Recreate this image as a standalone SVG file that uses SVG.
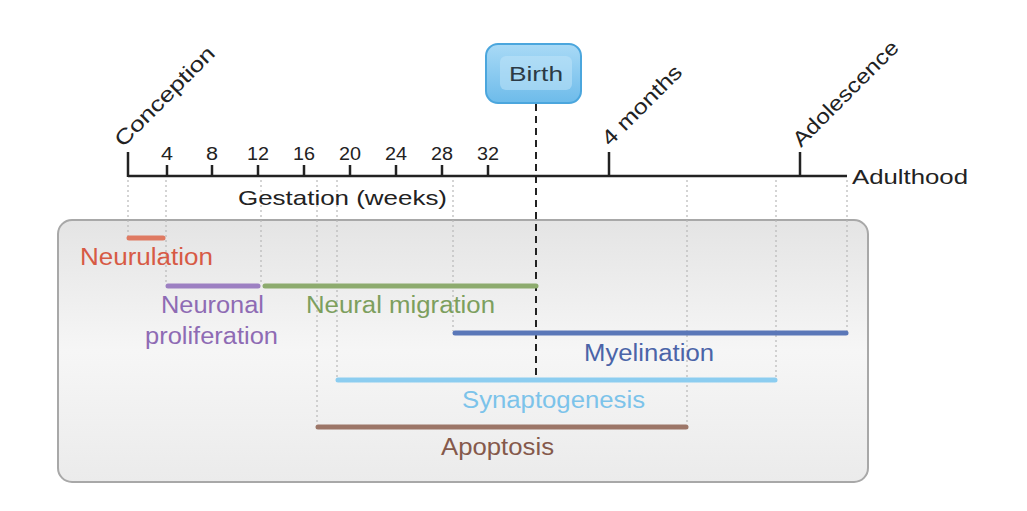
<svg xmlns="http://www.w3.org/2000/svg" width="1027" height="511" viewBox="0 0 1027 511">
<style>
text{font-family:"Liberation Sans",Arial,sans-serif}
.ax{stroke:#222;stroke-width:2.5;fill:none}
.tk{font-size:18px;fill:#222;text-anchor:middle}
.big{font-size:21px;fill:#222}
.dot{stroke:#b8b8b8;stroke-width:1.2;stroke-dasharray:2 3;fill:none}
.bar{stroke-width:5;stroke-linecap:round;fill:none}
.lbl{font-size:23px;text-anchor:middle}
</style>
<defs>
<linearGradient id="bg" x1="0" y1="0" x2="0" y2="1">
<stop offset="0" stop-color="#e4e4e4"/>
<stop offset="0.5" stop-color="#f6f6f6"/>
<stop offset="1" stop-color="#ebebeb"/>
</linearGradient>
<linearGradient id="bb" x1="0" y1="0" x2="0" y2="1">
<stop offset="0" stop-color="#a9daf6"/>
<stop offset="1" stop-color="#6dbbea"/>
</linearGradient>
</defs>
<g id="panel">
<rect x="58" y="220" width="810" height="262" rx="14" fill="url(#bg)" stroke="#a8a8a8" stroke-width="2"/>
</g>
<g id="guides">
<line class="dot" x1="128" y1="180" x2="128" y2="236"/>
<line class="dot" x1="166" y1="180" x2="166" y2="284"/>
<line class="dot" x1="261" y1="180" x2="261" y2="284"/>
<line class="dot" x1="317" y1="180" x2="317" y2="425"/>
<line class="dot" x1="337" y1="180" x2="337" y2="378"/>
<line class="dot" x1="453" y1="180" x2="453" y2="331"/>
<line class="dot" x1="687" y1="180" x2="687" y2="425"/>
<line class="dot" x1="776" y1="180" x2="776" y2="378"/>
<line class="dot" x1="847" y1="180" x2="847" y2="331"/>
</g>
<g id="axis">
<line class="ax" x1="128" y1="176" x2="847" y2="176"/>
<line class="ax" x1="128" y1="152" x2="128" y2="177"/>
<line class="ax" x1="167" y1="165" x2="167" y2="176"/>
<line class="ax" x1="212" y1="165" x2="212" y2="176"/>
<line class="ax" x1="258" y1="165" x2="258" y2="176"/>
<line class="ax" x1="304" y1="165" x2="304" y2="176"/>
<line class="ax" x1="350" y1="165" x2="350" y2="176"/>
<line class="ax" x1="396" y1="165" x2="396" y2="176"/>
<line class="ax" x1="442" y1="165" x2="442" y2="176"/>
<line class="ax" x1="488" y1="165" x2="488" y2="176"/>
<line class="ax" x1="609" y1="152" x2="609" y2="176"/>
<line class="ax" x1="800" y1="152" x2="800" y2="176"/>
<text class="tk" x="167" y="160" textLength="12" lengthAdjust="spacingAndGlyphs">4</text>
<text class="tk" x="212" y="160" textLength="12" lengthAdjust="spacingAndGlyphs">8</text>
<text class="tk" x="258" y="160" textLength="22" lengthAdjust="spacingAndGlyphs">12</text>
<text class="tk" x="304" y="160" textLength="22" lengthAdjust="spacingAndGlyphs">16</text>
<text class="tk" x="350" y="160" textLength="22" lengthAdjust="spacingAndGlyphs">20</text>
<text class="tk" x="396" y="160" textLength="22" lengthAdjust="spacingAndGlyphs">24</text>
<text class="tk" x="442" y="160" textLength="22" lengthAdjust="spacingAndGlyphs">28</text>
<text class="tk" x="488" y="160" textLength="22" lengthAdjust="spacingAndGlyphs">32</text>
<text class="big" x="238" y="205" textLength="209" lengthAdjust="spacingAndGlyphs">Gestation (weeks)</text>
<text class="big" x="852" y="184" textLength="116" lengthAdjust="spacingAndGlyphs">Adulthood</text>
<text class="big" transform="translate(123,148) rotate(-45)" textLength="132" lengthAdjust="spacingAndGlyphs">Conception</text>
<text class="big" transform="translate(610,147) rotate(-45)" textLength="104" lengthAdjust="spacingAndGlyphs">4 months</text>
<text class="big" transform="translate(801,148) rotate(-45)" textLength="140" lengthAdjust="spacingAndGlyphs">Adolescence</text>
</g>
<g id="birth">
<line x1="536" y1="104" x2="536" y2="382" stroke="#222" stroke-width="2" stroke-dasharray="7 5"/>
<rect x="486" y="44" width="95" height="59" rx="12" fill="url(#bb)" stroke="#4ba6dd" stroke-width="2"/>
<rect x="500" y="56" width="72" height="34" rx="6" fill="#bfe4f8" opacity="0.55"/>
<text x="509" y="81" font-size="21" fill="#2b3a45" textLength="54" lengthAdjust="spacingAndGlyphs">Birth</text>
</g>
<g id="neurulation">
<line class="bar" x1="129" y1="238" x2="163" y2="238" stroke="#df7a62"/>
<text class="lbl" x="146.5" y="265" fill="#d75a45" textLength="133" lengthAdjust="spacingAndGlyphs">Neurulation</text>
</g>
<g id="proliferation">
<line class="bar" x1="168" y1="286" x2="258" y2="286" stroke="#9d80c2"/>
<text class="lbl" x="212.5" y="313" fill="#8e6bb4" textLength="103" lengthAdjust="spacingAndGlyphs">Neuronal</text>
<text class="lbl" x="211.5" y="344" fill="#8e6bb4" textLength="133" lengthAdjust="spacingAndGlyphs">proliferation</text>
</g>
<g id="migration">
<line class="bar" x1="265" y1="286" x2="536" y2="286" stroke="#8dab6e"/>
<text class="lbl" x="400.5" y="313" fill="#7d9f5e" textLength="189" lengthAdjust="spacingAndGlyphs">Neural migration</text>
</g>
<g id="myelination">
<line class="bar" x1="455" y1="333" x2="846" y2="333" stroke="#5a77b8"/>
<text class="lbl" x="649" y="361" fill="#4b64a8" textLength="130" lengthAdjust="spacingAndGlyphs">Myelination</text>
</g>
<g id="synaptogenesis">
<line class="bar" x1="338" y1="380" x2="775" y2="380" stroke="#8ccdf0"/>
<text class="lbl" x="553.5" y="408" fill="#7cc3ea" textLength="183" lengthAdjust="spacingAndGlyphs">Synaptogenesis</text>
</g>
<g id="apoptosis">
<line class="bar" x1="318" y1="427" x2="686" y2="427" stroke="#9c7668"/>
<text class="lbl" x="497.5" y="455" fill="#85594b" textLength="113" lengthAdjust="spacingAndGlyphs">Apoptosis</text>
</g>
</svg>
